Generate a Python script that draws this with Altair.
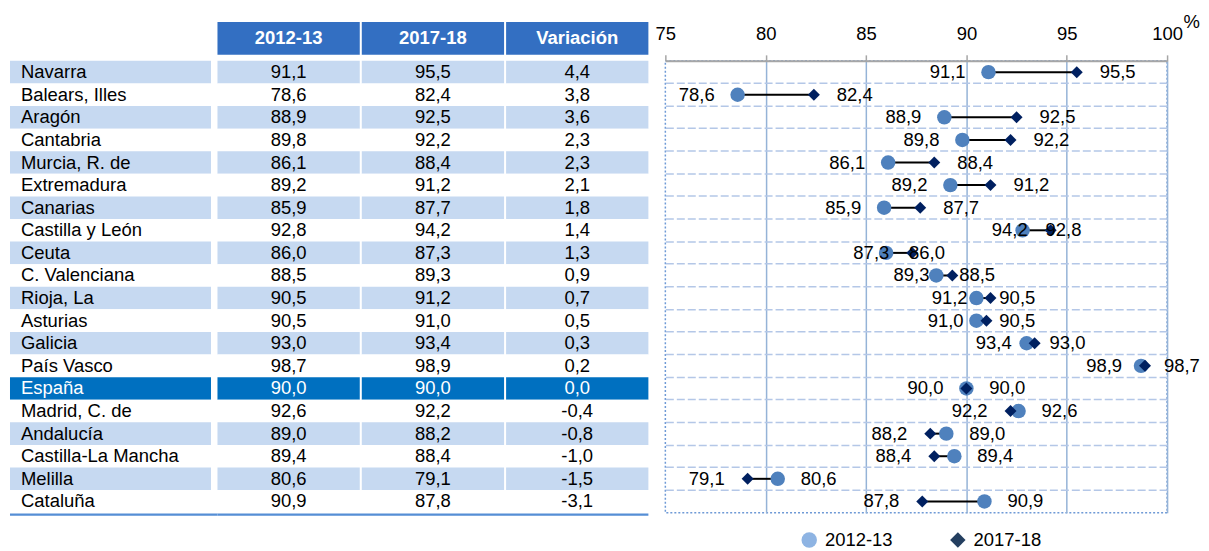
import altair as alt
import pandas as pd

regions = ["Navarra", "Balears, Illes", "Aragón", "Cantabria", "Murcia, R. de",
           "Extremadura", "Canarias", "Castilla y León", "Ceuta", "C. Valenciana",
           "Rioja, La", "Asturias", "Galicia", "País Vasco", "España",
           "Madrid, C. de", "Andalucía", "Castilla-La Mancha", "Melilla", "Cataluña"]
v_2012 = [91.1, 78.6, 88.9, 89.8, 86.1, 89.2, 85.9, 92.8, 86.0, 88.5,
          90.5, 90.5, 93.0, 98.7, 90.0, 92.6, 89.0, 89.4, 80.6, 90.9]
v_2017 = [95.5, 82.4, 92.5, 92.2, 88.4, 91.2, 87.7, 94.2, 87.3, 89.3,
          91.2, 91.0, 93.4, 98.9, 90.0, 92.2, 88.2, 88.4, 79.1, 87.8]
variation = [4.4, 3.8, 3.6, 2.3, 2.3, 2.1, 1.8, 1.4, 1.3, 0.9,
             0.7, 0.5, 0.3, 0.2, 0.0, -0.4, -0.8, -1.0, -1.5, -3.1]
series = ["2012-13", "2017-18"]
columns = ["2012-13", "2017-18", "Variación"]
x_ticks = [75, 80, 85, 90, 95, 100]

FONT = "Liberation Sans"
FS = 18.5
H = 453
NAME_W = 208
NAME_RECT_W = 201.5
VAL_W = 449
VAL_RANGE = 432
DOT_W = 503
HEADER_BLUE = "#336FC2"
SPAIN_BLUE = "#0070C0"
LIGHT = "#C6D9F1"
LINE_BLUE = "#558ED5"


def fmt(v):
    return f"{v:.1f}".replace(".", ",")


rows = pd.DataFrame({"region": regions, "v1": v_2012, "v2": v_2017, "var": variation})
rows["band"] = ["esp" if r == "España" else ("light" if i % 2 == 0 else "white")
                for i, r in enumerate(regions)]

cells = []
for r, a, b, c, band in zip(regions, v_2012, v_2017, variation, rows["band"]):
    for col, v in zip(columns, [a, b, c]):
        cells.append({"region": r, "col": col, "text": fmt(v), "band": band})
cells = pd.DataFrame(cells)
header = pd.DataFrame({"col": columns})
one = pd.DataFrame({"k": [0]})

# label sides (as drawn in the original chart)
circle_left = [v > 1.5 for v in variation]
left_lab = pd.DataFrame({
    "region": regions,
    "lv": [a if cl else b for a, b, cl in zip(v_2012, v_2017, circle_left)],
})
left_lab["txt"] = left_lab["lv"].map(fmt)
right_lab = pd.DataFrame({
    "region": regions,
    "rv": [b if cl else a for a, b, cl in zip(v_2012, v_2017, circle_left)],
})
right_lab["txt"] = right_lab["rv"].map(fmt)

long = pd.DataFrame({
    "region": regions * 2,
    "series": [series[0]] * len(regions) + [series[1]] * len(regions),
    "value": v_2012 + v_2017,
})

yscale = alt.Scale(domain=regions, paddingInner=0, paddingOuter=0)
Y = alt.Y("region:N", sort=regions, scale=yscale, axis=None)
fill_enc = alt.Fill("band:N", scale=alt.Scale(domain=["light", "white", "esp"],
                                              range=[LIGHT, "#FFFFFF", SPAIN_BLUE]),
                    legend=None)
text_color = alt.condition(alt.datum.region == "España", alt.value("white"), alt.value("black"))

# ---- names column
names_rect = alt.Chart(rows).mark_rect().encode(
    x=alt.value(0), x2=alt.value(NAME_RECT_W), y=Y, fill=fill_enc)
names_text = alt.Chart(rows).mark_text(align="left", baseline="middle", fontSize=FS).encode(
    x=alt.value(11), y=Y, text="region:N", color=text_color)
names_line = alt.Chart(one).mark_rule(color=LINE_BLUE, strokeWidth=2.2, yOffset=2).encode(
    x=alt.value(0), x2=alt.value("width"), y=alt.value("height"))
names = alt.layer(names_rect, names_text, names_line).properties(
    width=NAME_W, height=H, view=alt.ViewBackground(stroke="transparent"))

# ---- value columns
X = alt.X("col:N", sort=columns,
          scale=alt.Scale(domain=columns, range=[0, VAL_RANGE], paddingInner=0.014, paddingOuter=0),
          axis=None)
val_rect = alt.Chart(cells).mark_rect().encode(x=X, y=Y, fill=fill_enc)
val_text = alt.Chart(cells).mark_text(baseline="middle", fontSize=FS).encode(
    x=X, y=Y, text="text:N", color=text_color)
head_rect = alt.Chart(header).mark_rect(color=HEADER_BLUE).encode(
    x=X, y=alt.value(-39), y2=alt.value(-6))
head_text = alt.Chart(header).mark_text(baseline="middle", fontSize=FS, fontWeight="bold",
                                        color="white").encode(
    x=X, y=alt.value(-22.5), text="col:N")
val_line = alt.Chart(one).mark_rule(color=LINE_BLUE, strokeWidth=2.2, yOffset=2).encode(
    x=alt.value(0), x2=alt.value(VAL_RANGE), y=alt.value("height"))
values = alt.layer(val_rect, val_text, head_rect, head_text, val_line).properties(
    width=VAL_W, height=H, view=alt.ViewBackground(stroke="transparent"))

# ---- dot plot
xscale = alt.Scale(domain=[75, 100], nice=False, zero=False)
x_axis = alt.Axis(
    orient="top", values=x_ticks, format="d", grid=True, gridColor="#95B3D7", gridWidth=1.5,
    gridOpacity={"condition": {"test": "datum.value == 75", "value": 0}, "value": 1},
    domainColor="#A6A6A6", domainWidth=2, tickColor="#A6A6A6", tickWidth=1.5, tickSize=6,
    labelFontSize=FS, labelColor="black", labelPadding=11, labelFlush=False, labelOverlap=False,
    titleAngle=0, titleX=519, titleY=-39, titleAlign="left", titleBaseline="middle",
    titleFontSize=FS, titleFontWeight="normal", titleColor="black")


def xq(field):
    return alt.X(field, scale=xscale, axis=x_axis, title="%")


y_axis = alt.Axis(labels=False, ticks=False, domain=False, grid=True, bandPosition=0,
                  gridDash=[8, 3], gridColor="#B4C7E7", gridWidth=1.5, title=None)
YD = alt.Y("region:N", sort=regions, scale=yscale, axis=y_axis)

conn = alt.Chart(rows).mark_rule(color="black", strokeWidth=2).encode(
    x=xq("v1:Q"), x2="v2:Q", y=YD)
circles = alt.Chart(rows).mark_circle(size=210, color="#4F81BD", opacity=1).encode(
    x=xq("v1:Q"), y=YD)
diamonds = alt.Chart(rows).mark_point(shape="diamond", filled=True, size=144,
                                      color="#002060", opacity=1).encode(
    x=xq("v2:Q"), y=YD)
ltext = alt.Chart(left_lab).mark_text(align="right", baseline="middle", dx=-23,
                                      fontSize=FS, color="black").encode(
    x=xq("lv:Q"), y=YD, text="txt:N")
rtext = alt.Chart(right_lab).mark_text(align="left", baseline="middle", dx=23,
                                       fontSize=FS, color="black").encode(
    x=xq("rv:Q"), y=YD, text="txt:N")
legend = alt.Legend(orient="none", legendX=135, legendY=471, direction="horizontal",
                    title=None, labelFontSize=FS, labelColor="black", symbolSize=240,
                    symbolOpacity=1, symbolStrokeWidth=0, labelOffset=6.5,
                    columnPadding=56, padding=0)
legend_layer = alt.Chart(long).mark_point(filled=True, opacity=0).encode(
    x=xq("value:Q"), y=YD,
    color=alt.Color("series:N", scale=alt.Scale(domain=series, range=["#8EB4E3", "#243F60"]),
                    legend=legend),
    shape=alt.Shape("series:N", scale=alt.Scale(domain=series, range=["circle", "diamond"]),
                    legend=legend))

dots = alt.layer(conn, circles, diamonds, ltext, rtext, legend_layer).properties(
    width=DOT_W, height=H,
    view=alt.ViewBackground(stroke="#6F9AD6", strokeDash=[2, 2], strokeWidth=1.5))

chart = alt.hconcat(names, values, dots, spacing=0, bounds="flush").resolve_scale(
    x="independent", color="independent", fill="independent", shape="independent"
).properties(
    padding={"left": 0, "top": 3.3, "right": 0, "bottom": 0}
).configure(font=FONT).configure_view(stroke="transparent")

chart.save("out.html", embed_options={"renderer": "svg", "actions": False})
